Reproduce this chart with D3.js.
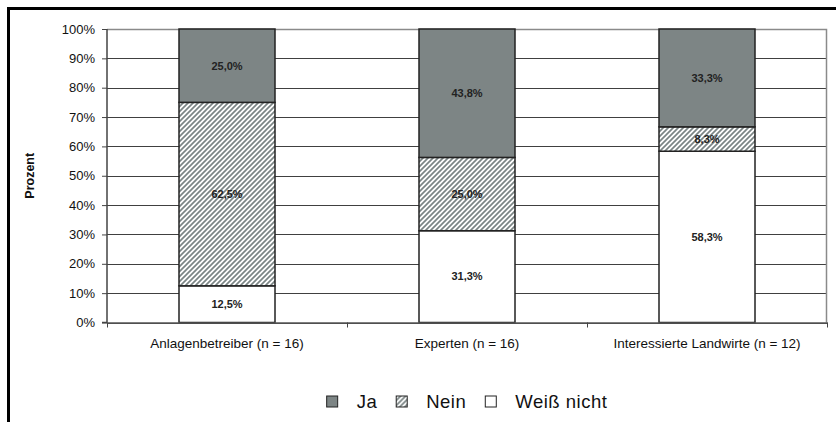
<!DOCTYPE html>
<html>
<head>
<meta charset="utf-8">
<script src="https://cdn.jsdelivr.net/npm/d3@7"></script>
<style>
  html, body { margin: 0; padding: 0; background: #fff; }
  svg { display: block; font-family: "Liberation Sans", Arial, sans-serif; }
</style>
</head>
<body>
<svg id="chart" width="836" height="422"></svg>
<script>
// Survey answers per group, in percent
const categories = ["Anlagenbetreiber (n = 16)", "Experten (n = 16)", "Interessierte Landwirte (n = 12)"];
const ja = [25.0, 43.8, 33.3];
const nein = [62.5, 25.0, 8.3];
const weissNicht = [12.5, 31.3, 58.3];
const seriesNames = ["Ja", "Nein", "Weiß nicht"];
const yTicks = [0, 10, 20, 30, 40, 50, 60, 70, 80, 90, 100];
const yTitle = "Prozent";

const W = 836, H = 422;
const margin = { top: 29, right: 9, bottom: 99.5, left: 107 };
const innerW = W - margin.left - margin.right;
const innerH = H - margin.top - margin.bottom;

const svg = d3.select("#chart");

// Outer frame (top and left edges)
svg.append("line").attr("x1", 7).attr("x2", W).attr("y1", 8.5).attr("y2", 8.5)
  .attr("stroke", "#000").attr("stroke-width", 3);
svg.append("line").attr("x1", 8.5).attr("x2", 8.5).attr("y1", 7).attr("y2", H)
  .attr("stroke", "#000").attr("stroke-width", 3);

// Hatch pattern for "Nein"
const defs = svg.append("defs");
const pat = defs.append("pattern").attr("id", "hatch")
  .attr("patternUnits", "userSpaceOnUse").attr("width", 5).attr("height", 5);
pat.append("rect").attr("width", 5).attr("height", 5).attr("fill", "#fff");
pat.append("path").attr("d", "M0,5 L5,0 M-1.25,1.25 L1.25,-1.25 M3.75,6.25 L6.25,3.75")
  .attr("stroke", "#7b8585").attr("stroke-width", 1.7);

const fills = { "Ja": "#7d8585", "Nein": "url(#hatch)", "Weiß nicht": "#ffffff" };

const rows = categories.map((c, i) => ({ cat: c, "Ja": ja[i], "Nein": nein[i], "Weiß nicht": weissNicht[i] }));
const stackKeys = ["Weiß nicht", "Nein", "Ja"];
const stacked = d3.stack().keys(stackKeys).offset(d3.stackOffsetExpand)(rows);

const x = d3.scaleBand().domain(categories).range([0, innerW]).paddingInner(0).paddingOuter(0);
const barW = x.bandwidth() * 0.4;
const y = d3.scaleLinear().domain([0, 1]).range([innerH, 0]);
const yPct = d3.scaleLinear().domain([0, 100]).range([innerH, 0]);

const g = svg.append("g").attr("transform", `translate(${margin.left},${margin.top})`);

// Gridlines
g.append("g").selectAll("line").data(yTicks).join("line")
  .attr("x1", 0).attr("x2", innerW)
  .attr("y1", d => Math.round(yPct(d)) + 0.5).attr("y2", d => Math.round(yPct(d)) + 0.5)
  .attr("stroke", "#404040").attr("stroke-width", 1);

// Plot area border (top and right)
g.append("path")
  .attr("d", `M0,0.5 H${innerW - 0.5} V${innerH}`)
  .attr("fill", "none").attr("stroke", "#8a8a8a").attr("stroke-width", 1.5);

// Bars
const comma = d3.formatLocale({ decimal: ",", thousands: ".", grouping: [3], currency: ["", "€"] }).format(".1f");
const layers = g.append("g").selectAll("g").data(stacked).join("g")
  .attr("fill", d => fills[d.key]);
layers.selectAll("rect").data(d => d.map(s => ({ s, key: d.key }))).join("rect")
  .attr("x", d => x(d.s.data.cat) + (x.bandwidth() - barW) / 2)
  .attr("width", barW)
  .attr("y", d => y(d.s[1]))
  .attr("height", d => y(d.s[0]) - y(d.s[1]))
  .attr("stroke", "#222").attr("stroke-width", 1.5);

// Value labels
layers.selectAll("text").data(d => d.map(s => ({ s, key: d.key }))).join("text")
  .attr("x", d => x(d.s.data.cat) + x.bandwidth() / 2)
  .attr("y", d => (y(d.s[0]) + y(d.s[1])) / 2)
  .attr("dy", "0.35em")
  .attr("text-anchor", "middle")
  .attr("font-size", 11).attr("font-weight", "bold").attr("fill", "#222")
  .text(d => comma(d.s.data[d.key]) + "%");

// Y axis
const yAxis = g.append("g")
  .call(d3.axisLeft(yPct).tickValues(yTicks).tickSize(5).tickPadding(7).tickFormat(d => d + "%"));
yAxis.select(".domain").attr("stroke", "#444").attr("stroke-width", 1.5).attr("d", `M-5,${innerH}H0V0`);
yAxis.selectAll(".tick line").attr("stroke", "#444");
yAxis.selectAll("text").attr("font-size", 13).attr("fill", "#111")
  .attr("font-family", "'Liberation Sans', Arial, sans-serif");

// X axis
const xAxis = g.append("g").attr("transform", `translate(0,${innerH})`)
  .call(d3.axisBottom(x).tickSize(0).tickPadding(16));
xAxis.select(".domain").attr("stroke", "#555").attr("stroke-width", 1.5);
xAxis.selectAll("text").attr("font-size", 13.5).attr("fill", "#111")
  .attr("font-family", "'Liberation Sans', Arial, sans-serif");
const bounds = categories.map(c => x(c)).concat([innerW]);
g.append("g").selectAll("line").data(bounds).join("line")
  .attr("x1", d => Math.round(d) + 0.5).attr("x2", d => Math.round(d) + 0.5)
  .attr("y1", innerH).attr("y2", innerH + 5)
  .attr("stroke", "#444").attr("stroke-width", 1);

// Y axis title
svg.append("text")
  .attr("transform", `translate(34,${margin.top + innerH / 2}) rotate(-90)`)
  .attr("text-anchor", "middle")
  .attr("font-size", 12.5).attr("font-weight", "bold").attr("fill", "#111")
  .text(yTitle);

// Legend
const legend = svg.append("g");
const legendY = 402;
const textGap = 30, itemGap = 19;
let cursor = 0;
seriesNames.forEach(name => {
  const it = legend.append("g");
  it.append("rect").attr("x", cursor).attr("y", legendY - 6).attr("width", 11).attr("height", 11)
    .attr("fill", name === "Nein" ? "url(#hatch)" : fills[name])
    .attr("stroke", "#222").attr("stroke-width", 1);
  const t = it.append("text").attr("x", cursor + textGap).attr("y", legendY).attr("dy", "0.35em")
    .attr("font-size", 18.5).attr("letter-spacing", 0.5).attr("fill", "#111").text(name);
  cursor += textGap + t.node().getComputedTextLength() + itemGap;
});
const legendW = cursor - itemGap;
legend.attr("transform", `translate(${margin.left + innerW / 2 - legendW / 2},0)`);
</script>
</body>
</html>
